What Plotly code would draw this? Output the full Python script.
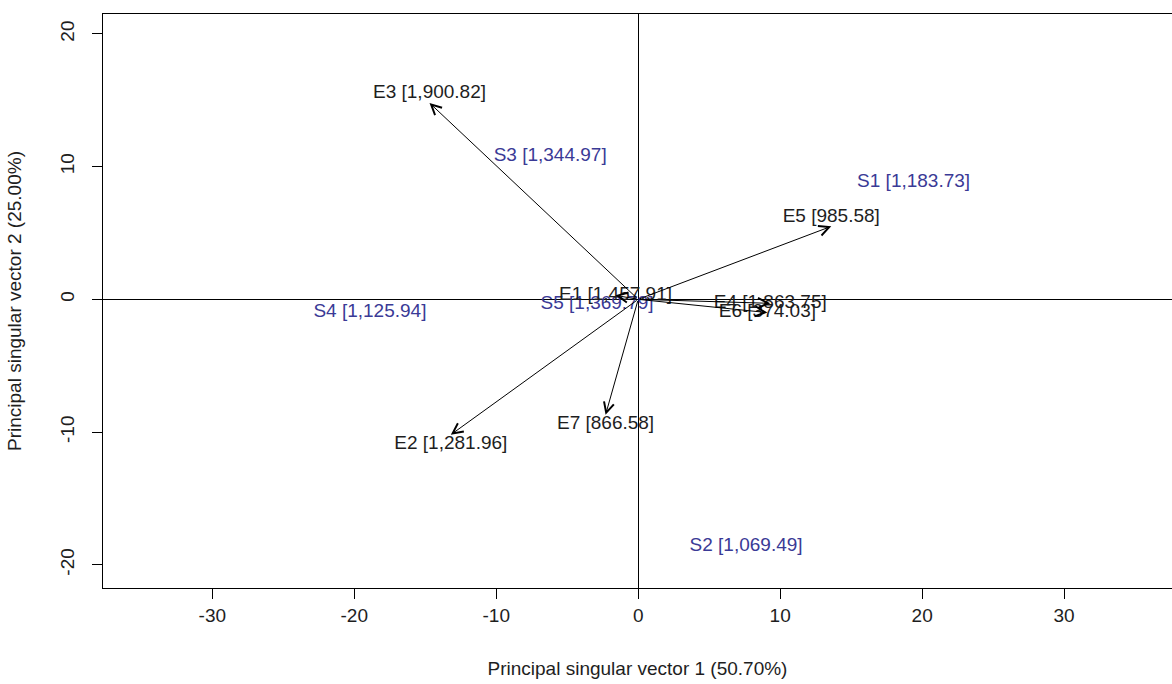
import plotly.graph_objects as go

# Environment vectors (arrow end points) and labels
env_names = ["E1 [1,457.91]", "E2 [1,281.96]", "E3 [1,900.82]", "E4 [1,863.75]",
             "E5 [985.58]", "E6 [374.03]", "E7 [866.58]"]
env_x = [-1.6, -13.2, -14.7, 9.3, 13.6, 9.1, -2.3]
env_y = [0.3, -10.2, 14.8, -0.3, 5.5, -1.0, -8.7]
env_textpos = ["middle center", "bottom center", "top center", "middle center",
               "top center", "middle center", "bottom center"]

# Genotype (sample) scores
gen_names = ["S1 [1,183.73]", "S2 [1,069.49]", "S3 [1,344.97]", "S4 [1,125.94]", "S5 [1,369.79]"]
gen_x = [19.4, 7.6, -6.2, -18.9, -2.9]
gen_y = [8.8, -18.6, 10.8, -1.0, -0.4]

x_ticks = [-30, -20, -10, 0, 10, 20, 30]
y_ticks = [-20, -10, 0, 10, 20]

FONT = "Liberation Sans, Arial, sans-serif"
BLUE = "#3a3a96"
TXT = "#1e1e1e"
FS = 19

fig = go.Figure()

fig.add_trace(go.Scatter(
    x=gen_x, y=gen_y, mode="text", text=gen_names,
    textposition="middle center",
    textfont=dict(family=FONT, size=FS, color=BLUE),
    hoverinfo="skip", showlegend=False))

fig.add_trace(go.Scatter(
    x=env_x, y=env_y, mode="text", text=env_names,
    textposition=env_textpos,
    textfont=dict(family=FONT, size=FS, color=TXT),
    hoverinfo="skip", showlegend=False))

for ex, ey in zip(env_x, env_y):
    fig.add_annotation(x=ex, y=ey, ax=0, ay=0, xref="x", yref="y",
                       axref="x", ayref="y", text="", showarrow=True,
                       arrowhead=5, arrowsize=2.0, arrowwidth=1,
                       arrowcolor="#000000", standoff=0, startstandoff=0)

fig.update_layout(
    width=1172, height=684,
    margin=dict(l=103, r=0, t=14, b=96),
    paper_bgcolor="white", plot_bgcolor="white",
    font=dict(family=FONT, size=FS, color=TXT),
    showlegend=False,
)

fig.update_xaxes(
    range=[-37.7, 37.6], tickvals=x_ticks, ticktext=[str(v) for v in x_ticks],
    showgrid=False, zeroline=True, zerolinecolor="#000000", zerolinewidth=1,
    showline=True, linecolor="#000000", linewidth=1, mirror=True,
    ticks="outside", ticklen=10, tickcolor="#000000",
    tickfont=dict(family=FONT, size=FS, color=TXT),
    title=dict(text="Principal singular vector 1 (50.70%)", standoff=36,
               font=dict(family=FONT, size=FS, color=TXT)),
)
fig.update_yaxes(
    range=[-21.75, 21.5], tickvals=y_ticks, ticktext=[str(v) for v in y_ticks],
    showgrid=False, zeroline=True, zerolinecolor="#000000", zerolinewidth=1,
    showline=True, linecolor="#000000", linewidth=1, mirror=False,
    ticks="outside", ticklen=10, tickcolor="#000000", tickangle=-90,
    ticklabelstandoff=10,
    tickfont=dict(family=FONT, size=FS, color=TXT),
    title=dict(text="Principal singular vector 2 (25.00%)", standoff=30,
               font=dict(family=FONT, size=FS, color=TXT)),
)

fig.write_html("out.html")
